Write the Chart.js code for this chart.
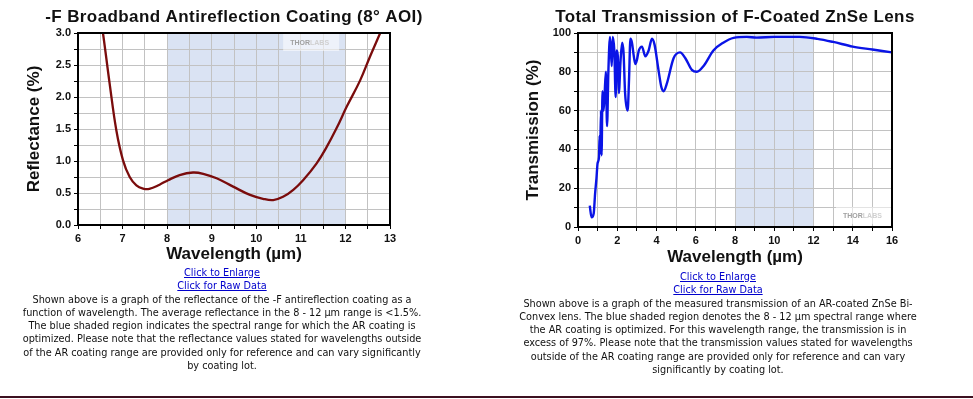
<!DOCTYPE html>
<html>
<head>
<meta charset="utf-8">
<script src="https://cdn.jsdelivr.net/npm/chart.js@4.4.1/dist/chart.umd.min.js"></script>
<style>
    body {
        margin: 0;
        width: 973px;
        height: 399px;
        overflow: hidden;
        background: #fff;
        font-family: "Liberation Sans Narrow", "DejaVu Sans Condensed", Arial, sans-serif;
    }
    .graph { position: absolute; top: 0; }
    .caption {
        position: absolute;
        text-align: center;
        font-size: 10.8px;
        line-height: 13.3px;
        color: #111;
    }
    .caption a { color: #0000cc; text-decoration: underline; }
    #bottom-rule {
        position: absolute;
        left: 0;
        top: 396px;
        width: 973px;
        height: 2px;
        background: #3d1020;
    }
</style>
</head>
<body>
<canvas id="graph-refl" class="graph" style="left:0px" width="440" height="270"></canvas>
<canvas id="graph-trans" class="graph" style="left:490px" width="460" height="272"></canvas>

<div class="caption" style="left:0px; top:266px; width:444px;">
    <a href="#">Click to Enlarge</a><br>
    <a href="#">Click for Raw Data</a><br>
    Shown above is a graph of the reflectance of the -F antireflection coating as a<br>
    function of wavelength. The average reflectance in the 8 - 12 µm range is &lt;1.5%.<br>
    The blue shaded region indicates the spectral range for which the AR coating is<br>
    optimized. Please note that the reflectance values stated for wavelengths outside<br>
    of the AR coating range are provided only for reference and can vary significantly<br>
    by coating lot.
</div>

<div class="caption" style="left:468px; top:270px; width:500px;">
    <a href="#">Click to Enlarge</a><br>
    <a href="#">Click for Raw Data</a><br>
    Shown above is a graph of the measured transmission of an AR-coated ZnSe Bi-<br>
    Convex lens. The blue shaded region denotes the 8 - 12 µm spectral range where<br>
    the AR coating is optimized. For this wavelength range, the transmission is in<br>
    excess of 97%. Please note that the transmission values stated for wavelengths<br>
    outside of the AR coating range are provided only for reference and can vary<br>
    significantly by coating lot.
</div>

<div id="bottom-rule"></div>

<script>
// reflectance of the -F coating, wavelength in µm
const reflWavelength = [6.45, 6.56, 6.71, 6.86, 7.01, 7.16, 7.31, 7.46, 7.6, 7.83, 8.02, 8.28, 8.58, 8.81, 9.11,
    9.48, 9.86, 10.15, 10.38, 10.6, 10.83, 11.05, 11.35, 11.58, 11.8, 12.03, 12.33, 12.55, 12.78, 12.9];
const reflPercent = [3.5, 3.0, 2.21, 1.48, 1.01, 0.75, 0.62, 0.57, 0.565, 0.63, 0.70, 0.78, 0.82, 0.80, 0.73,
    0.60, 0.47, 0.41, 0.39, 0.44, 0.55, 0.70, 0.96, 1.22, 1.51, 1.85, 2.26, 2.63, 3.0, 3.2];

// transmission of the coated ZnSe lens
const transWavelength = [0.6, 0.69, 0.8, 0.87, 0.94, 1.0, 1.07, 1.1, 1.13, 1.17, 1.2, 1.25, 1.3, 1.35, 1.42,
    1.48, 1.55, 1.63, 1.72, 1.77, 1.85, 1.92, 1.97, 2.03, 2.08, 2.17, 2.25, 2.32, 2.4, 2.53,
    2.6, 2.67, 2.75, 2.83, 2.92, 3.0, 3.1, 3.26, 3.43, 3.6, 3.77, 3.9, 4.1, 4.25, 4.36,
    4.53, 4.87, 5.2, 5.47, 5.8, 6.06, 6.4, 6.9, 7.4, 7.93, 8.6, 9.1, 10, 11.3, 12.2,
    13, 14, 15, 16];
const transPercent = [11, 5, 7, 17, 25, 33, 36, 47, 38, 60, 37, 70, 60, 67, 80,
    52, 81, 98, 83, 98, 91, 67, 91, 88, 69, 86, 95, 90, 69, 60,
    76, 97, 95, 89, 84, 86, 91, 93, 88, 91, 97, 94, 81, 72, 70,
    74, 87, 90, 87, 81, 80, 83, 91, 95, 97.5, 98, 97.6, 98, 98, 97,
    95.4, 93, 91.5, 90];

// AR coating design band
const arBand = [8, 12];

const reflTitle = "-F Broadband Antireflection Coating (8° AOI)";
const transTitle = "Total Transmission of F-Coated ZnSe Lens";

const FONT = "'Liberation Sans', Arial, sans-serif";

// blue band behind everything (grid is drawn after this)
const bandPlugin = {
    id: 'arBand',
    beforeDraw(chart, args, opts) {
        const { ctx, chartArea, scales } = chart;
        let x0 = scales.x.getPixelForValue(opts.from);
        let x1 = scales.x.getPixelForValue(opts.to);
        ctx.save();
        ctx.fillStyle = opts.color;
        ctx.fillRect(x0, chartArea.top, x1 - x0, chartArea.bottom - chartArea.top);
        ctx.restore();
    }
};

// faint logo stamp, position given as fraction of the plot area
const stampPlugin = {
    id: 'stamp',
    beforeDatasetsDraw(chart, args, opts) {
        const { ctx, chartArea } = chart;
        let x = chartArea.left + opts.fx * (chartArea.right - chartArea.left);
        let y = chartArea.top + opts.fy * (chartArea.bottom - chartArea.top);
        ctx.save();
        ctx.fillStyle = 'rgba(255,255,255,0.55)';
        ctx.fillRect(x - 7, y - 9, 56, 17);
        ctx.font = "bold 7px " + FONT;
        ctx.textBaseline = 'middle';
        ctx.fillStyle = '#a0a0a0';
        ctx.fillText("THOR", x, y);
        let w = ctx.measureText("THOR").width;
        ctx.fillStyle = '#d0d0d0';
        ctx.fillText("LABS", x + w, y);
        ctx.restore();
    }
};

// black frame round the plot + title centred over the plot area
const framePlugin = {
    id: 'frame',
    afterDatasetsDraw(chart, args, opts) {
        const { ctx, chartArea } = chart;
        ctx.save();
        ctx.strokeStyle = '#000';
        ctx.lineWidth = 2;
        ctx.strokeRect(chartArea.left, chartArea.top, chartArea.right - chartArea.left, chartArea.bottom - chartArea.top);
        ctx.fillStyle = '#111';
        ctx.font = "bold 17px " + FONT;
        ctx.letterSpacing = '0.4px';
        ctx.textAlign = 'center';
        ctx.textBaseline = 'middle';
        ctx.fillText(opts.text, (chartArea.left + chartArea.right) / 2, 17);
        ctx.restore();
    }
};

function isStep(value, step) {
    return Math.abs(value / step - Math.round(value / step)) < 1e-6;
}

/**
 * builds the options for one of the two graphs
 * plotLeft / padRight fix the plot area so both graphs line up with the picture
 */
function graph_options(cfg) {
    return {
        responsive: false,
        animation: false,
        layout: { padding: { top: 33, right: cfg.padRight, left: 0, bottom: 0 } },
        scales: {
            x: {
                type: 'linear',
                min: cfg.xMin,
                max: cfg.xMax,
                afterFit: function (scale) { scale.height = 45; },
                grid: { color: '#c2c2c2', lineWidth: 1, tickLength: 4, tickColor: '#000' },
                border: { display: false },
                ticks: {
                    stepSize: cfg.xStep,
                    autoSkip: false,
                    maxRotation: 0,
                    padding: 3,
                    color: '#111',
                    font: { family: FONT, size: 11, weight: 'bold' },
                    callback: function (value) {
                        return isStep(value, cfg.xLabelStep) ? String(Math.round(value)) : '';
                    }
                },
                title: {
                    display: true,
                    text: 'Wavelength (µm)',
                    color: '#111',
                    font: { family: FONT, size: 17, weight: 'bold' },
                    padding: { top: 0, bottom: cfg.xTitlePad }
                }
            },
            y: {
                min: cfg.yMin,
                max: cfg.yMax,
                afterFit: function (scale) { scale.width = cfg.plotLeft; },
                grid: { color: '#c2c2c2', lineWidth: 1, tickLength: 4, tickColor: '#000' },
                border: { display: false },
                ticks: {
                    stepSize: cfg.yStep,
                    autoSkip: false,
                    padding: 3,
                    color: '#111',
                    font: { family: FONT, size: 11, weight: 'bold' },
                    callback: function (value) {
                        if (!isStep(value, cfg.yLabelStep)) return '';
                        return value.toFixed(cfg.yDecimals);
                    }
                },
                title: {
                    display: true,
                    text: cfg.yTitle,
                    color: '#111',
                    font: { family: FONT, size: 17, weight: 'bold' },
                    padding: { top: cfg.yTitlePad, bottom: 0 }
                }
            }
        },
        plugins: {
            legend: { display: false },
            tooltip: { enabled: false },
            arBand: { from: arBand[0], to: arBand[1], color: '#dae3f3' },
            stamp: { fx: cfg.stampX, fy: cfg.stampY },
            frame: { text: cfg.title }
        }
    };
}

new Chart(document.getElementById('graph-refl'), {
    type: 'scatter',
    data: {
        datasets: [{
            label: 'Reflectance',
            data: reflWavelength.map((w, i) => ({ x: w, y: reflPercent[i] })),
            showLine: true,
            pointRadius: 0,
            borderColor: '#7a0c0c',
            borderWidth: 2.3,
            tension: 0.4
        }]
    },
    options: graph_options({
        title: reflTitle, yTitle: 'Reflectance (%)',
        xMin: 6, xMax: 13, xStep: 0.5, xLabelStep: 1,
        yMin: 0, yMax: 3, yStep: 0.25, yLabelStep: 0.5, yDecimals: 1,
        plotLeft: 78, padRight: 50, xTitlePad: 5, yTitlePad: 24,
        stampX: 0.68, stampY: 0.052
    }),
    plugins: [bandPlugin, stampPlugin, framePlugin]
});

new Chart(document.getElementById('graph-trans'), {
    type: 'scatter',
    data: {
        datasets: [{
            label: 'Transmission',
            data: transWavelength.map((w, i) => ({ x: w, y: transPercent[i] })),
            showLine: true,
            pointRadius: 0,
            borderColor: '#0a14e6',
            borderWidth: 2.4,
            cubicInterpolationMode: 'monotone'
        }]
    },
    options: graph_options({
        title: transTitle, yTitle: 'Transmission (%)',
        xMin: 0, xMax: 16, xStep: 1, xLabelStep: 2,
        yMin: 0, yMax: 100, yStep: 10, yLabelStep: 20, yDecimals: 0,
        plotLeft: 88, padRight: 58, xTitlePad: 4, yTitlePad: 33,
        stampX: 0.844, stampY: 0.943
    }),
    plugins: [bandPlugin, stampPlugin, framePlugin]
});
</script>
</body>
</html>
